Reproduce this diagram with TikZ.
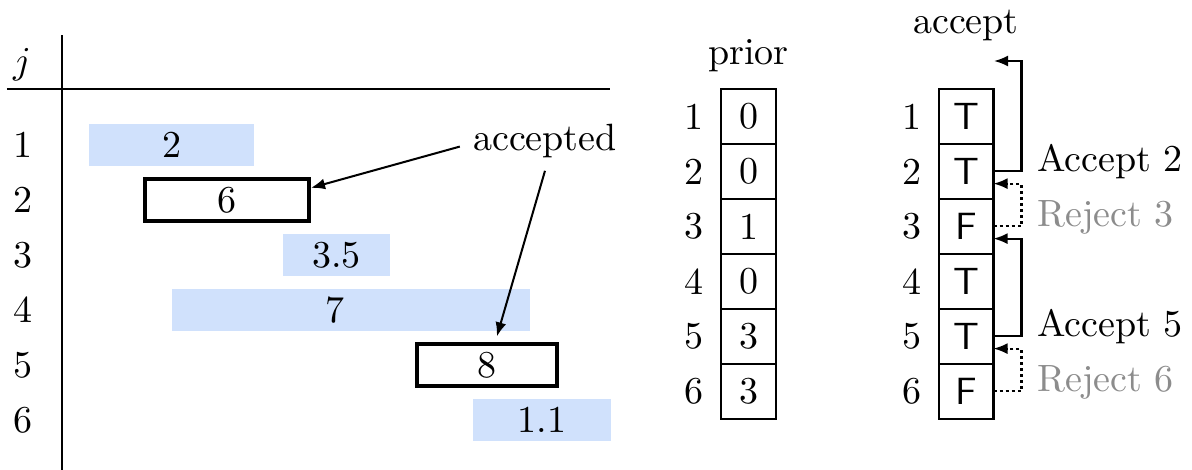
\documentclass[tikz,border=0pt]{standalone}
\usetikzlibrary{positioning,arrows.meta}
\definecolor{barblue}{RGB}{208,225,252}
\tikzset{
	bar/.style={fill=barblue, minimum height=11.05pt, inner sep=0pt},
	chosen/.style={draw, line width=1.05pt, minimum height=10.8pt, inner sep=0pt},
	cell/.style={draw, line width=0.53pt, minimum width=14.47pt, minimum height=14.47pt, inner sep=0pt, outer sep=0pt},
	tf/.style={cell, font=\sffamily},
	arr/.style={line width=0.53pt, -{Latex[length=3.7pt,width=2.9pt]}},
	rej/.style={arr, dash pattern=on 0.8pt off 0.8pt},
	tag/.style={anchor=base west, inner sep=0pt},
}
\begin{document}
\begin{tikzpicture}[x=0.26316pt, y=-0.26316pt]
		\useasboundingbox (0,0) rectangle (1192,470);
		% intervals
		\draw [line width=0.53pt] (62,35) -- (62,470);
		\draw [line width=0.53pt] (7,89) -- (610,89);
		\node [anchor=base] (jlab) at (22,73) {$j$};
		\node (r1) at (23,145) {1};
		\node (r2) at (23,200) {2};
		\node (r3) at (23,255) {3};
		\node (r4) at (23,310) {4};
		\node (r5) at (23,365) {5};
		\node (r6) at (23,420) {6};
		\node [bar, minimum width=43.42pt] (b1) at (171.5,145) {2};
		\node [chosen, minimum width=43.16pt] (b2) at (227,200) {6};
		\node [bar, minimum width=28.16pt] (b3) at (336.5,255) {3.5};
		\node [bar, minimum width=94.21pt] (b4) at (351,310) {};
		\node (w4) at (335,310) {7};
		\node [chosen, minimum width=36.84pt] (b5) at (487,365) {8};
		\node [bar, minimum width=36.32pt] (b6) at (542,420) {1.1};
		\node [anchor=base] (acc) at (545,150) {accepted};
		\draw [arr] ([yshift=-1.6pt]acc.west) -- ([yshift=3.2pt]b2.east);
		\draw [arr] (acc.south) -- ([xshift=2.6pt,yshift=1.6pt]b5.north);
		% prior
		\node [anchor=base] (prior) at (748.5,65) {prior};
		\node [cell] (p1) at (748.5,116.5) {0};
		\node [cell, below=0pt of p1] (p2) {0};
		\node [cell, below=0pt of p2] (p3) {1};
		\node [cell, below=0pt of p3] (p4) {0};
		\node [cell, below=0pt of p4] (p5) {3};
		\node [cell, below=0pt of p5] (p6) {3};
		\node [left=1pt of p1] (pl1) {1};
		\node [left=1pt of p2] (pl2) {2};
		\node [left=1pt of p3] (pl3) {3};
		\node [left=1pt of p4] (pl4) {4};
		\node [left=1pt of p5] (pl5) {5};
		\node [left=1pt of p6] (pl6) {6};
		% accept
		\node [anchor=base] (head) at (966,33) {accept};
		\node [tf] (a1) at (966,116.5) {T};
		\node [tf, below=0pt of a1] (a2) {T};
		\node [tf, below=0pt of a2] (a3) {F};
		\node [tf, below=0pt of a3] (a4) {T};
		\node [tf, below=0pt of a4] (a5) {T};
		\node [tf, below=0pt of a5] (a6) {F};
		\node [left=1pt of a1] (al1) {1};
		\node [left=1pt of a2] (al2) {2};
		\node [left=1pt of a3] (al3) {3};
		\node [left=1pt of a4] (al4) {4};
		\node [left=1pt of a5] (al5) {5};
		\node [left=1pt of a6] (al6) {6};
		\coordinate (top) at (994,61);
		\draw [arr] (a2.east) -- ++(28,0) |- (top);
		\draw [rej] (a3.east) -- ++(28,0) |- ([yshift=-3.2pt]a2.east);
		\draw [arr] (a5.east) -- ++(28,0) |- ([yshift=-3.2pt]a3.east);
		\draw [rej] (a6.east) -- ++(28,0) |- ([yshift=-3.2pt]a5.east);
		\node [tag] (s2) at ([xshift=11.3pt]a2.east) {Accept 2};
		\node [tag, text=black!45] (s3) at ([xshift=11.3pt]a3.east) {Reject 3};
		\node [tag] (s5) at ([xshift=11.3pt]a5.east) {Accept 5};
		\node [tag, text=black!45] (s6) at ([xshift=11.3pt]a6.east) {Reject 6};
	\end{tikzpicture}
\end{document}
